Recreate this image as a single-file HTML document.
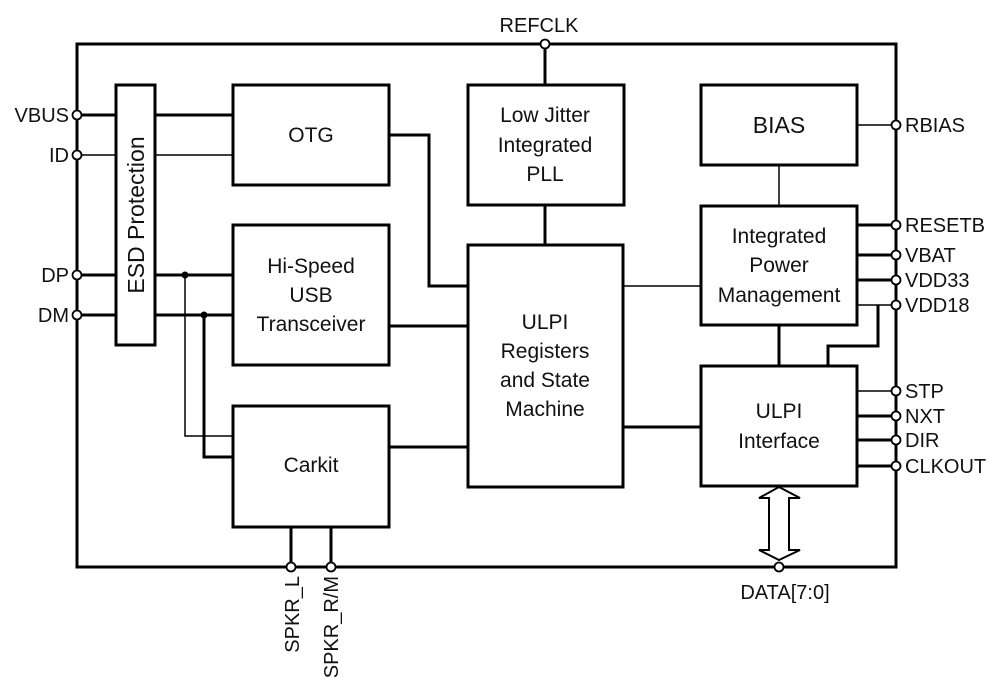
<!DOCTYPE html>
<html><head><style>
body{margin:0;background:#fff}
svg{display:block}
text{font-family:"Liberation Sans",Arial,sans-serif;fill:#111}
</style></head><body>
<svg width="1003" height="696" viewBox="0 0 1003 696" xmlns="http://www.w3.org/2000/svg">
<g fill="none" stroke="#000" stroke-width="3">
<rect x="77" y="44" width="819" height="523"/>
<rect x="116" y="85" width="39" height="260"/>
<rect x="233" y="85" width="156" height="100"/>
<rect x="233" y="225" width="156" height="140"/>
<rect x="233" y="406" width="156" height="121"/>
<rect x="468" y="85" width="156" height="120"/>
<rect x="468" y="245" width="155" height="242"/>
<rect x="701" y="85" width="156" height="80"/>
<rect x="701" y="206" width="156" height="119"/>
<rect x="701" y="366" width="156" height="120"/>
<path d="M77 115H116 M155 115H233"/>
<path d="M77 275H116 M155 275H233"/>
<path d="M77 315H116 M155 315H233"/>
<path d="M389 135H429V286H468"/>
<path d="M389 326H468"/>
<path d="M389 447H468"/>
<path d="M204 315V457H233"/>
<path d="M545 44V85 M545 205V245"/>
<path d="M623 427H701"/>
<path d="M779 325V366"/>
<path d="M857 225H896 M857 255H896 M857 280H896 M857 466H896 M857 416H896 M857 440H896"/>
<path d="M878 305V346H828V366"/>
<path d="M291 527V567 M331 527V567"/>
</g>
<g fill="none" stroke="#000" stroke-width="1.5">
<path d="M77 155H116 M155 155H233"/>
<path d="M185 275V436H233"/>
<path d="M623 286H701"/>
<path d="M779 165V206"/>
<path d="M857 125H896"/>
<path d="M857 305H896"/>
<path d="M857 391H896"/>
</g>
<path d="M779 487L800 498H789V550H800L779 560L759 550H769V498H759Z" fill="#fff" stroke="#000" stroke-width="2"/>
<g fill="#000"><circle cx="185" cy="275" r="3.5"/><circle cx="204" cy="315" r="3.5"/></g>
<g fill="#fff" stroke="#000" stroke-width="1.8">
<circle cx="77" cy="115" r="4.5"/><circle cx="77" cy="155" r="4.5"/><circle cx="77" cy="275" r="4.5"/><circle cx="77" cy="315" r="4.5"/>
<circle cx="545" cy="44" r="4.5"/>
<circle cx="896" cy="125" r="4.5"/><circle cx="896" cy="225" r="4.5"/><circle cx="896" cy="255" r="4.5"/><circle cx="896" cy="280" r="4.5"/><circle cx="896" cy="305" r="4.5"/>
<circle cx="896" cy="391" r="4.5"/><circle cx="896" cy="416" r="4.5"/><circle cx="896" cy="440" r="4.5"/><circle cx="896" cy="466" r="4.5"/>
<circle cx="779" cy="567" r="4.5"/><circle cx="291" cy="567" r="4.5"/><circle cx="331" cy="567" r="4.5"/>
</g>
<g font-size="20">
<text x="69" y="122" text-anchor="end">VBUS</text>
<text x="69" y="162" text-anchor="end">ID</text>
<text x="69" y="282" text-anchor="end">DP</text>
<text x="69" y="322" text-anchor="end">DM</text>
<text x="539" y="32" text-anchor="middle">REFCLK</text>
<text x="905" y="132">RBIAS</text>
<text x="905" y="232">RESETB</text>
<text x="905" y="262">VBAT</text>
<text x="905" y="287">VDD33</text>
<text x="905" y="312">VDD18</text>
<text x="905" y="398">STP</text>
<text x="905" y="423">NXT</text>
<text x="905" y="447">DIR</text>
<text x="905" y="473">CLKOUT</text>
<text x="785" y="599" text-anchor="middle">DATA[7:0]</text>
<text transform="translate(299,576) rotate(-90)" text-anchor="end">SPKR_L</text>
<text transform="translate(338,576) rotate(-90)" text-anchor="end">SPKR_R/M</text>
</g>
<g font-size="21" text-anchor="middle">
<text transform="translate(144,215) rotate(-90)" font-size="23">ESD Protection</text>
<text x="311" y="142">OTG</text>
<text x="311" y="273">Hi-Speed</text>
<text x="311" y="302">USB</text>
<text x="311" y="331">Transceiver</text>
<text x="311" y="472">Carkit</text>
<text x="545" y="122">Low Jitter</text>
<text x="545" y="152">Integrated</text>
<text x="545" y="181">PLL</text>
<text x="545" y="329">ULPI</text>
<text x="545" y="358">Registers</text>
<text x="545" y="387">and State</text>
<text x="545" y="416">Machine</text>
<text x="779" y="133" font-size="23">BIAS</text>
<text x="779" y="243">Integrated</text>
<text x="779" y="272">Power</text>
<text x="779" y="302">Management</text>
<text x="779" y="418">ULPI</text>
<text x="779" y="448">Interface</text>
</g>
</svg>
</body></html>
